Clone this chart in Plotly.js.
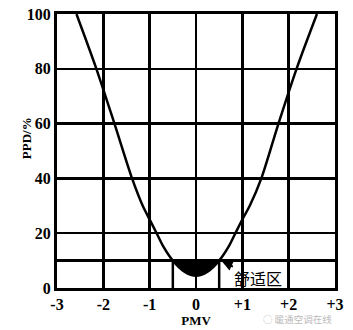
<!DOCTYPE html>
<html>
<head>
<meta charset="utf-8">
<script src="https://cdn.plot.ly/plotly-3.0.1.min.js"></script>
<style>html,body{margin:0;padding:0;background:#fff;}#chart{width:353px;height:330px;}</style>
</head>
<body>
<div id="chart"></div>
<script>
// Values
const PMV = [-2.58, -2.15, -1.76, -1.38, -1.15, -1.0, -0.85, -0.7, -0.5, -0.25, 0, 0.25, 0.5, 0.7, 0.85, 1.0, 1.16, 1.41, 1.78, 2.17, 2.61];
const PPD = [100, 80, 60, 40, 30, 25, 20, 15, 10, 6, 4.5, 6, 10, 15, 20, 25, 30, 40, 60, 80, 100];
const COMFORT_PMV = [-0.5, 0.5];
const COMFORT_PPD = 10;
const X_TICKS = [-3, -2, -1, 0, 1, 2, 3];
const X_TICK_TEXT = ['-3', '-2', '-1', '0', '+1', '+2', '+3'];
const Y_TICKS = [0, 10, 20, 40, 60, 80, 100];
const Y_TICK_TEXT = ['0', '', '20', '40', '60', '80', '100'];

const segX = [], segY = [];
PMV.forEach((v, i) => { if (v >= COMFORT_PMV[0] && v <= COMFORT_PMV[1]) { segX.push(v); segY.push(PPD[i]); } });

const serif = 'Liberation Serif, Times New Roman, serif';
const traces = [
  { x: COMFORT_PMV, y: [COMFORT_PPD, COMFORT_PPD], mode: 'lines', line: { color: '#000', width: 0 }, hoverinfo: 'skip' },
  { x: segX, y: segY, mode: 'lines', line: { color: '#000', width: 0, shape: 'spline', smoothing: 0.8 }, fill: 'tonexty', fillcolor: '#000', hoverinfo: 'skip' },
  { x: PMV, y: PPD, mode: 'lines', line: { color: '#000', width: 2.5, shape: 'spline', smoothing: 0.8 } }
];

const shapes = COMFORT_PMV.map(v => ({ type: 'line', xref: 'x', yref: 'y', x0: v, x1: v, y0: 0, y1: COMFORT_PPD, line: { color: '#000', width: 2.5 }, layer: 'below' }));

const layout = {
  width: 353, height: 330,
  margin: { l: 57, r: 18, t: 14, b: 42 },
  paper_bgcolor: '#fff', plot_bgcolor: '#fff',
  showlegend: false,
  xaxis: {
    range: [-3, 3], tickvals: X_TICKS, ticktext: X_TICK_TEXT,
    showgrid: true, gridcolor: '#000', gridwidth: 2.5, zeroline: false,
    showline: true, linecolor: '#000', linewidth: 3, mirror: true, ticks: '',
    tickfont: { family: serif, size: 16, color: '#000', weight: 'bold' },
    title: { text: 'PMV', font: { family: serif, size: 13, color: '#000', weight: 'bold' }, standoff: 4 }
  },
  yaxis: {
    range: [0, 100], tickvals: Y_TICKS, ticktext: Y_TICK_TEXT,
    showgrid: true, gridcolor: '#000', gridwidth: 2.5, zeroline: false,
    showline: true, linecolor: '#000', linewidth: 3, mirror: true, ticks: '',
    tickfont: { family: serif, size: 16, color: '#000', weight: 'bold' }
  },
  shapes: shapes,
  annotations: [
    { x: 0, y: 0.545, xref: 'paper', yref: 'paper', xshift: -40, textangle: -90, showarrow: false,
      text: 'PPD/%', font: { family: serif, size: 13, color: '#000', weight: 'bold' } },
    { x: 0.57, y: 9.5, xref: 'x', yref: 'y', text: '舒适区', showarrow: true, arrowhead: 2, arrowsize: 1, arrowwidth: 2, arrowcolor: '#000',
      ax: 36, ay: 16, font: { family: 'Noto Sans CJK SC', size: 16, color: '#000' } },
    { x: 0.995, y: 0.0, xref: 'paper', yref: 'paper', yshift: -31, xanchor: 'right', yanchor: 'middle', showarrow: false,
      text: '◌ 暖通空调在线', font: { family: 'Noto Sans CJK SC', size: 9.5, color: '#bbb' } }
  ]
};

Plotly.newPlot('chart', traces, layout, { staticPlot: true, displayModeBar: false });
</script>
</body>
</html>
